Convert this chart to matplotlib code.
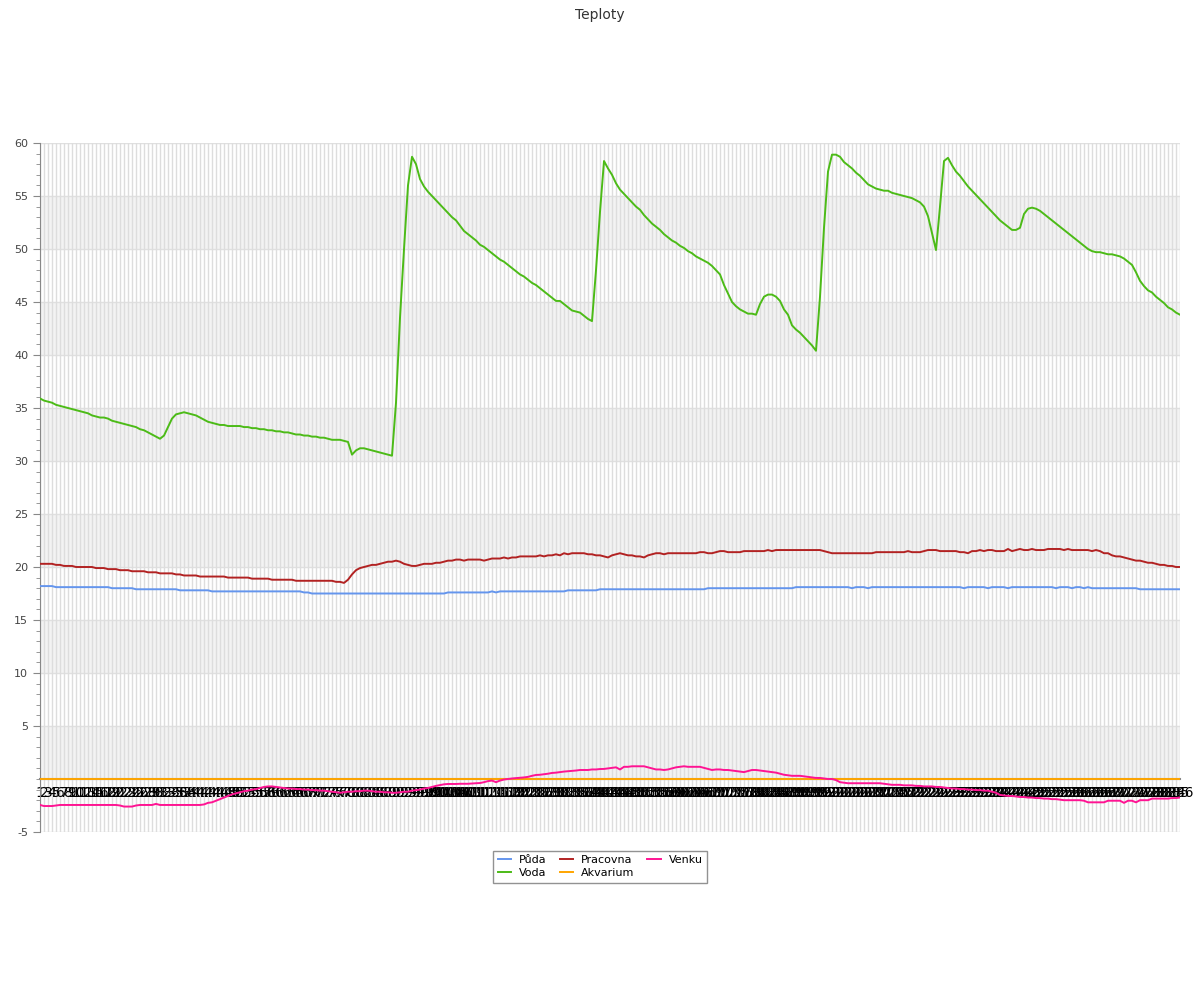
import numpy as np
import matplotlib
matplotlib.use("Agg")
import matplotlib.pyplot as plt
from matplotlib.ticker import MultipleLocator, FixedLocator

plt.rcParams["axes.unicode_minus"] = False

# data (286 readings)
voda = [
    35.9, 35.7, 35.6, 35.5, 35.3, 35.2, 35.1, 35.0, 34.9, 34.8, 34.7, 34.6, 34.5, 34.3, 34.2, 34.1, 34.1, 34.0, 33.8, 33.7,
    33.6, 33.5, 33.4, 33.3, 33.2, 33.0, 32.9, 32.7, 32.5, 32.3, 32.1, 32.4, 33.2, 34.0, 34.4, 34.5, 34.6, 34.5, 34.4, 34.3,
    34.1, 33.9, 33.7, 33.6, 33.5, 33.4, 33.4, 33.3, 33.3, 33.3, 33.3, 33.2, 33.2, 33.1, 33.1, 33.0, 33.0, 32.9, 32.9, 32.8,
    32.8, 32.7, 32.7, 32.6, 32.5, 32.5, 32.4, 32.4, 32.3, 32.3, 32.2, 32.2, 32.1, 32.0, 32.0, 32.0, 31.9, 31.8, 30.6, 31.0,
    31.2, 31.2, 31.1, 31.0, 30.9, 30.8, 30.7, 30.6, 30.5, 35.5, 43.5, 50.0, 56.0, 58.7, 58.0, 56.6, 55.9, 55.4, 55.0, 54.6,
    54.2, 53.8, 53.4, 53.0, 52.7, 52.2, 51.7, 51.4, 51.1, 50.8, 50.4, 50.2, 49.9, 49.6, 49.3, 49.0, 48.8, 48.5, 48.2, 47.9,
    47.6, 47.4, 47.1, 46.8, 46.6, 46.3, 46.0, 45.7, 45.4, 45.1, 45.1, 44.8, 44.5, 44.2, 44.1, 44.0, 43.7, 43.4, 43.2, 48.0,
    53.5, 58.3, 57.6, 57.0, 56.2, 55.6, 55.2, 54.8, 54.4, 54.0, 53.7, 53.2, 52.8, 52.4, 52.1, 51.8, 51.4, 51.1, 50.8, 50.6,
    50.3, 50.1, 49.8, 49.6, 49.3, 49.1, 48.9, 48.7, 48.4, 48.0, 47.6, 46.6, 45.8, 45.0, 44.6, 44.3, 44.1, 43.9, 43.9, 43.8,
    44.8, 45.5, 45.7, 45.7, 45.5, 45.1, 44.3, 43.8, 42.8, 42.4, 42.1, 41.7, 41.3, 40.9, 40.4, 45.5, 52.0, 57.3, 58.9, 58.9,
    58.7, 58.2, 57.9, 57.6, 57.2, 56.9, 56.5, 56.1, 55.9, 55.7, 55.6, 55.5, 55.5, 55.3, 55.2, 55.1, 55.0, 54.9, 54.8, 54.6,
    54.4, 54.0, 53.1, 51.5, 49.9, 54.0, 58.3, 58.6, 57.9, 57.3, 56.9, 56.4, 55.9, 55.5, 55.1, 54.7, 54.3, 53.9, 53.5, 53.1,
    52.7, 52.4, 52.1, 51.8, 51.8, 52.0, 53.3, 53.8, 53.9, 53.8, 53.6, 53.3, 53.0, 52.7, 52.4, 52.1, 51.8, 51.5, 51.2, 50.9,
    50.6, 50.3, 50.0, 49.8, 49.7, 49.7, 49.6, 49.5, 49.5, 49.4, 49.3, 49.1, 48.8, 48.5, 47.8, 47.0, 46.5, 46.1, 45.9, 45.5,
    45.2, 44.9, 44.5, 44.3, 44.0, 43.8,
]

pracovna = [
    20.3, 20.3, 20.3, 20.3, 20.2, 20.2, 20.1, 20.1, 20.1, 20.0, 20.0, 20.0, 20.0, 20.0, 19.9, 19.9, 19.9, 19.8, 19.8, 19.8,
    19.7, 19.7, 19.7, 19.6, 19.6, 19.6, 19.6, 19.5, 19.5, 19.5, 19.4, 19.4, 19.4, 19.4, 19.3, 19.3, 19.2, 19.2, 19.2, 19.2,
    19.1, 19.1, 19.1, 19.1, 19.1, 19.1, 19.1, 19.0, 19.0, 19.0, 19.0, 19.0, 19.0, 18.9, 18.9, 18.9, 18.9, 18.9, 18.8, 18.8,
    18.8, 18.8, 18.8, 18.8, 18.7, 18.7, 18.7, 18.7, 18.7, 18.7, 18.7, 18.7, 18.7, 18.7, 18.6, 18.6, 18.5, 18.8, 19.3, 19.7,
    19.9, 20.0, 20.1, 20.2, 20.2, 20.3, 20.4, 20.5, 20.5, 20.6, 20.5, 20.3, 20.2, 20.1, 20.1, 20.2, 20.3, 20.3, 20.3, 20.4,
    20.4, 20.5, 20.6, 20.6, 20.7, 20.7, 20.6, 20.7, 20.7, 20.7, 20.7, 20.6, 20.7, 20.8, 20.8, 20.8, 20.9, 20.8, 20.9, 20.9,
    21.0, 21.0, 21.0, 21.0, 21.0, 21.1, 21.0, 21.1, 21.1, 21.2, 21.1, 21.3, 21.2, 21.3, 21.3, 21.3, 21.3, 21.2, 21.2, 21.1,
    21.1, 21.0, 20.9, 21.1, 21.2, 21.3, 21.2, 21.1, 21.1, 21.0, 21.0, 20.9, 21.1, 21.2, 21.3, 21.3, 21.2, 21.3, 21.3, 21.3,
    21.3, 21.3, 21.3, 21.3, 21.3, 21.4, 21.4, 21.3, 21.3, 21.4, 21.5, 21.5, 21.4, 21.4, 21.4, 21.4, 21.5, 21.5, 21.5, 21.5,
    21.5, 21.5, 21.6, 21.5, 21.6, 21.6, 21.6, 21.6, 21.6, 21.6, 21.6, 21.6, 21.6, 21.6, 21.6, 21.6, 21.5, 21.4, 21.3, 21.3,
    21.3, 21.3, 21.3, 21.3, 21.3, 21.3, 21.3, 21.3, 21.3, 21.4, 21.4, 21.4, 21.4, 21.4, 21.4, 21.4, 21.4, 21.5, 21.4, 21.4,
    21.4, 21.5, 21.6, 21.6, 21.6, 21.5, 21.5, 21.5, 21.5, 21.5, 21.4, 21.4, 21.3, 21.5, 21.5, 21.6, 21.5, 21.6, 21.6, 21.5,
    21.5, 21.5, 21.7, 21.5, 21.6, 21.7, 21.6, 21.6, 21.7, 21.6, 21.6, 21.6, 21.7, 21.7, 21.7, 21.7, 21.6, 21.7, 21.6, 21.6,
    21.6, 21.6, 21.6, 21.5, 21.6, 21.5, 21.3, 21.3, 21.1, 21.0, 21.0, 20.9, 20.8, 20.7, 20.6, 20.6, 20.5, 20.4, 20.4, 20.3,
    20.2, 20.2, 20.1, 20.1, 20.0, 20.0,
]

puda = [
    18.2, 18.2, 18.2, 18.2, 18.1, 18.1, 18.1, 18.1, 18.1, 18.1, 18.1, 18.1, 18.1, 18.1, 18.1, 18.1, 18.1, 18.1, 18.0, 18.0,
    18.0, 18.0, 18.0, 18.0, 17.9, 17.9, 17.9, 17.9, 17.9, 17.9, 17.9, 17.9, 17.9, 17.9, 17.9, 17.8, 17.8, 17.8, 17.8, 17.8,
    17.8, 17.8, 17.8, 17.7, 17.7, 17.7, 17.7, 17.7, 17.7, 17.7, 17.7, 17.7, 17.7, 17.7, 17.7, 17.7, 17.7, 17.7, 17.7, 17.7,
    17.7, 17.7, 17.7, 17.7, 17.7, 17.7, 17.6, 17.6, 17.5, 17.5, 17.5, 17.5, 17.5, 17.5, 17.5, 17.5, 17.5, 17.5, 17.5, 17.5,
    17.5, 17.5, 17.5, 17.5, 17.5, 17.5, 17.5, 17.5, 17.5, 17.5, 17.5, 17.5, 17.5, 17.5, 17.5, 17.5, 17.5, 17.5, 17.5, 17.5,
    17.5, 17.5, 17.6, 17.6, 17.6, 17.6, 17.6, 17.6, 17.6, 17.6, 17.6, 17.6, 17.6, 17.7, 17.6, 17.7, 17.7, 17.7, 17.7, 17.7,
    17.7, 17.7, 17.7, 17.7, 17.7, 17.7, 17.7, 17.7, 17.7, 17.7, 17.7, 17.7, 17.8, 17.8, 17.8, 17.8, 17.8, 17.8, 17.8, 17.8,
    17.9, 17.9, 17.9, 17.9, 17.9, 17.9, 17.9, 17.9, 17.9, 17.9, 17.9, 17.9, 17.9, 17.9, 17.9, 17.9, 17.9, 17.9, 17.9, 17.9,
    17.9, 17.9, 17.9, 17.9, 17.9, 17.9, 17.9, 18.0, 18.0, 18.0, 18.0, 18.0, 18.0, 18.0, 18.0, 18.0, 18.0, 18.0, 18.0, 18.0,
    18.0, 18.0, 18.0, 18.0, 18.0, 18.0, 18.0, 18.0, 18.0, 18.1, 18.1, 18.1, 18.1, 18.1, 18.1, 18.1, 18.1, 18.1, 18.1, 18.1,
    18.1, 18.1, 18.1, 18.0, 18.1, 18.1, 18.1, 18.0, 18.1, 18.1, 18.1, 18.1, 18.1, 18.1, 18.1, 18.1, 18.1, 18.1, 18.1, 18.1,
    18.1, 18.1, 18.1, 18.1, 18.1, 18.1, 18.1, 18.1, 18.1, 18.1, 18.1, 18.0, 18.1, 18.1, 18.1, 18.1, 18.1, 18.0, 18.1, 18.1,
    18.1, 18.1, 18.0, 18.1, 18.1, 18.1, 18.1, 18.1, 18.1, 18.1, 18.1, 18.1, 18.1, 18.1, 18.0, 18.1, 18.1, 18.1, 18.0, 18.1,
    18.1, 18.0, 18.1, 18.0, 18.0, 18.0, 18.0, 18.0, 18.0, 18.0, 18.0, 18.0, 18.0, 18.0, 18.0, 17.9, 17.9, 17.9, 17.9, 17.9,
    17.9, 17.9, 17.9, 17.9, 17.9, 17.9,
]

venku = [
    -2.45, -2.55, -2.55, -2.55, -2.5, -2.45, -2.45, -2.45, -2.45, -2.45, -2.45, -2.45, -2.45, -2.45, -2.45, -2.45, -2.45, -2.45, -2.45, -2.45,
    -2.5, -2.6, -2.6, -2.6, -2.5, -2.45, -2.45, -2.45, -2.45, -2.35, -2.45, -2.45, -2.45, -2.45, -2.45, -2.45, -2.45, -2.45, -2.45, -2.45,
    -2.45, -2.4, -2.25, -2.2, -2.05, -1.9, -1.75, -1.6, -1.45, -1.35, -1.25, -1.15, -1.1, -1.0, -0.95, -0.85, -0.75, -0.7, -0.7, -0.75,
    -0.8, -0.85, -0.9, -0.9, -0.95, -0.95, -1.0, -1.0, -1.05, -1.05, -1.1, -1.1, -1.15, -1.2, -1.25, -1.3, -1.25, -1.2, -1.2, -1.15,
    -1.15, -1.1, -1.1, -1.15, -1.2, -1.2, -1.25, -1.25, -1.3, -1.3, -1.25, -1.2, -1.2, -1.1, -1.05, -1.0, -0.9, -0.85, -0.75, -0.65,
    -0.57, -0.5, -0.47, -0.47, -0.47, -0.45, -0.45, -0.45, -0.42, -0.4, -0.38, -0.3, -0.2, -0.15, -0.3, -0.15, -0.05, 0.0, 0.05, 0.08,
    0.1, 0.15, 0.2, 0.3, 0.38, 0.4, 0.45, 0.5, 0.57, 0.6, 0.65, 0.7, 0.73, 0.75, 0.8, 0.85, 0.85, 0.85, 0.9, 0.9,
    0.94, 0.95, 1.0, 1.05, 1.1, 0.9, 1.15, 1.15, 1.2, 1.2, 1.2, 1.2, 1.1, 1.0, 0.9, 0.9, 0.85, 0.9, 1.0, 1.1,
    1.15, 1.2, 1.15, 1.15, 1.15, 1.15, 1.05, 0.95, 0.85, 0.9, 0.9, 0.85, 0.85, 0.8, 0.75, 0.7, 0.65, 0.75, 0.85, 0.85,
    0.8, 0.75, 0.7, 0.65, 0.6, 0.5, 0.4, 0.35, 0.3, 0.3, 0.3, 0.25, 0.2, 0.15, 0.1, 0.1, 0.05, 0.0, 0.0, -0.1,
    -0.3, -0.35, -0.4, -0.4, -0.4, -0.4, -0.4, -0.4, -0.4, -0.4, -0.4, -0.45, -0.5, -0.55, -0.55, -0.55, -0.6, -0.6, -0.6, -0.65,
    -0.65, -0.7, -0.7, -0.7, -0.75, -0.75, -0.8, -0.85, -0.9, -0.9, -0.95, -0.95, -1.0, -1.0, -1.05, -1.05, -1.1, -1.1, -1.2, -1.3,
    -1.5, -1.55, -1.6, -1.6, -1.65, -1.7, -1.7, -1.75, -1.75, -1.8, -1.8, -1.85, -1.85, -1.9, -1.9, -1.95, -2.0, -2.0, -2.0, -2.0,
    -2.0, -2.05, -2.2, -2.2, -2.2, -2.2, -2.2, -2.05, -2.05, -2.05, -2.05, -2.25, -2.05, -2.05, -2.2, -2.0, -2.0, -2.0, -1.85, -1.85,
    -1.85, -1.85, -1.85, -1.8, -1.8, -1.75,
]

akvarium = [0.0] * len(voda)
labels = [str(i) for i in range(1, len(voda) + 1)]

series = [
    ("Půda", puda, "#6495ed"),
    ("Voda", voda, "#4cbb17"),
    ("Pracovna", pracovna, "#b22222"),
    ("Akvarium", akvarium, "#ffa500"),
    ("Venku", venku, "#ff1493"),
]

x = np.arange(len(voda))

fig = plt.figure(figsize=(12, 10), dpi=100)
ax = fig.add_axes([40 / 1200, 1 - 832 / 1000, 1140 / 1200, 689 / 1000])

# alternating bands
for lo in range(0, 55, 10):
    ax.axhspan(lo, lo + 5, color="#f3f3f3", zorder=0, lw=0)

for name, vals, col in series:
    ax.plot(x, vals, color=col, lw=1.4, label=name, zorder=3)

ax.set_xlim(0, len(voda) - 1)
ax.set_ylim(-5, 60)

ax.xaxis.set_major_locator(FixedLocator(x))
ax.set_xticklabels(labels, fontsize=7.5, color="#555555")
ax.tick_params(axis="x", length=0, pad=5)

ax.yaxis.set_major_locator(FixedLocator([-5] + list(range(5, 61, 5))))
ax.yaxis.set_minor_locator(MultipleLocator(1))
ax.tick_params(axis="y", which="major", length=5, color="#888888", labelsize=8, labelcolor="#444444")
ax.tick_params(axis="y", which="minor", length=3, color="#888888")

ax.grid(axis="x", color="#dddddd", lw=1)
ax.set_axisbelow("line")
for yv in range(-5, 61, 5):
    ax.axhline(yv, color="#e0e0e0", lw=1, zorder=1)

ax.spines["top"].set_visible(False)
ax.spines["right"].set_visible(False)
ax.spines["left"].set_color("#888888")
ax.spines["bottom"].set_position(("data", 0))
ax.spines["bottom"].set_color("#888888")
ax.spines["bottom"].set_linewidth(1.5)
ax.spines["bottom"].set_zorder(2.5)

fig.suptitle("Teploty", y=0.992, fontsize=10, color="#333333")
fig.legend(loc="upper center", bbox_to_anchor=(0.5, 0.155), ncol=3, fontsize=8,
           frameon=True, fancybox=False, edgecolor="#777777", handlelength=1.2,
           handletextpad=0.7, columnspacing=1.2, borderpad=0.4, labelspacing=0.3)

fig.savefig("out.png", dpi=100)
